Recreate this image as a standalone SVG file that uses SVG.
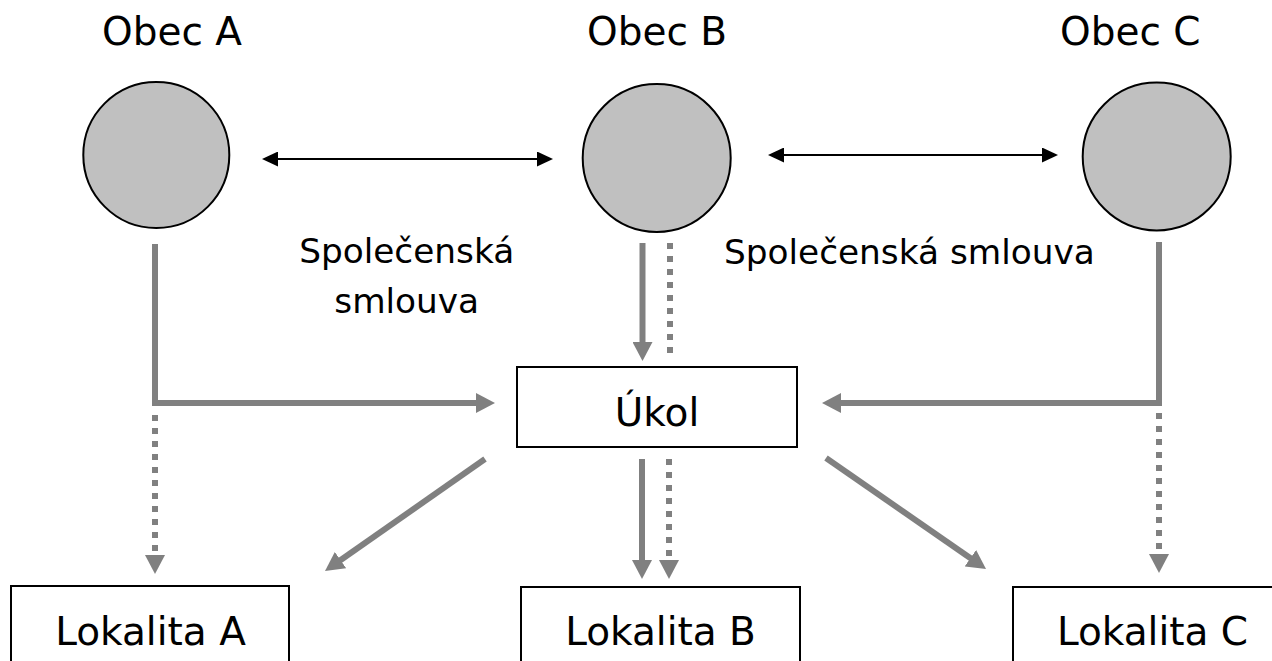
<svg xmlns="http://www.w3.org/2000/svg" width="1272" height="661" viewBox="0 0 1272 661">
<style>
text{font-family:"DejaVu Sans","Liberation Sans",sans-serif;fill:#000}
.big{font-size:39px}
.lbl{font-size:34.3px}
.circ{fill:#C0C0C0;stroke:#000;stroke-width:2}
.box{fill:#fff;stroke:#000;stroke-width:2}
.blk{stroke:#000;stroke-width:2;fill:none}
.g{stroke:#808080;stroke-width:6;fill:none}
.gd{stroke:#808080;stroke-width:6;fill:none;stroke-dasharray:6 7}
</style>
<defs>
<marker id="ah" markerUnits="userSpaceOnUse" markerWidth="20" markerHeight="20" viewBox="0 0 20 20" refX="9" refY="10" orient="auto"><path d="M0,0 L19,10 L0,20 z" fill="#808080"/></marker>
<marker id="bh" markerUnits="userSpaceOnUse" markerWidth="16" markerHeight="15" viewBox="0 0 16 15" refX="8" refY="7.5" orient="auto-start-reverse"><path d="M0,0 L16,7.5 L0,15 z" fill="#000"/></marker>
</defs>
<rect width="1272" height="661" fill="#fff"/>
<g id="connectors">
<line class="blk" x1="270" y1="159" x2="545" y2="159" marker-start="url(#bh)" marker-end="url(#bh)"/>
<line class="blk" x1="776" y1="155" x2="1050" y2="155" marker-start="url(#bh)" marker-end="url(#bh)"/>
<path class="g" d="M155,244 V403 H485" marker-end="url(#ah)"/>
<line class="gd" x1="155" y1="415" x2="155" y2="564" marker-end="url(#ah)"/>
<line class="g" x1="642.5" y1="243" x2="642.5" y2="351" marker-end="url(#ah)"/>
<line class="gd" x1="670" y1="243" x2="670" y2="355"/>
<path class="g" d="M1159,242 V403 H832" marker-end="url(#ah)"/>
<line class="gd" x1="1159" y1="413" x2="1159" y2="563" marker-end="url(#ah)"/>
<line class="g" x1="642" y1="459" x2="642" y2="569" marker-end="url(#ah)"/>
<line class="gd" x1="669" y1="459" x2="669" y2="569" marker-end="url(#ah)"/>
<line class="g" x1="485" y1="459" x2="333.2" y2="565.3" marker-end="url(#ah)"/>
<line class="g" x1="826" y1="458" x2="977.8" y2="563.3" marker-end="url(#ah)"/>
</g>
<g id="obecA">
<circle class="circ" cx="156.3" cy="155" r="73"/>
<text class="big" x="102" y="45">Obec A</text>
</g>
<g id="obecB">
<circle class="circ" cx="656.7" cy="158" r="74"/>
<text class="big" x="587" y="45">Obec B</text>
</g>
<g id="obecC">
<circle class="circ" cx="1156.7" cy="156.5" r="74"/>
<text class="big" x="1060" y="45">Obec C</text>
</g>
<g id="label1">
<text class="lbl" x="406.7" y="263" text-anchor="middle">Společenská</text>
<text class="lbl" x="406.7" y="313" text-anchor="middle">smlouva</text>
</g>
<g id="label2">
<text class="lbl" x="724" y="264">Společenská smlouva</text>
</g>
<g id="ukol">
<rect class="box" x="517" y="367" width="280" height="80"/>
<text class="big" x="657" y="426" text-anchor="middle">Úkol</text>
</g>
<g id="lokalitaA">
<rect class="box" x="11" y="586" width="278" height="90"/>
<text class="big" x="150.5" y="645" text-anchor="middle">Lokalita A</text>
</g>
<g id="lokalitaB">
<rect class="box" x="521" y="587" width="279" height="90"/>
<text class="big" x="660.5" y="645" text-anchor="middle">Lokalita B</text>
</g>
<g id="lokalitaC">
<rect class="box" x="1013" y="587" width="280" height="90"/>
<text class="big" x="1152.5" y="645" text-anchor="middle">Lokalita C</text>
</g>
</svg>
